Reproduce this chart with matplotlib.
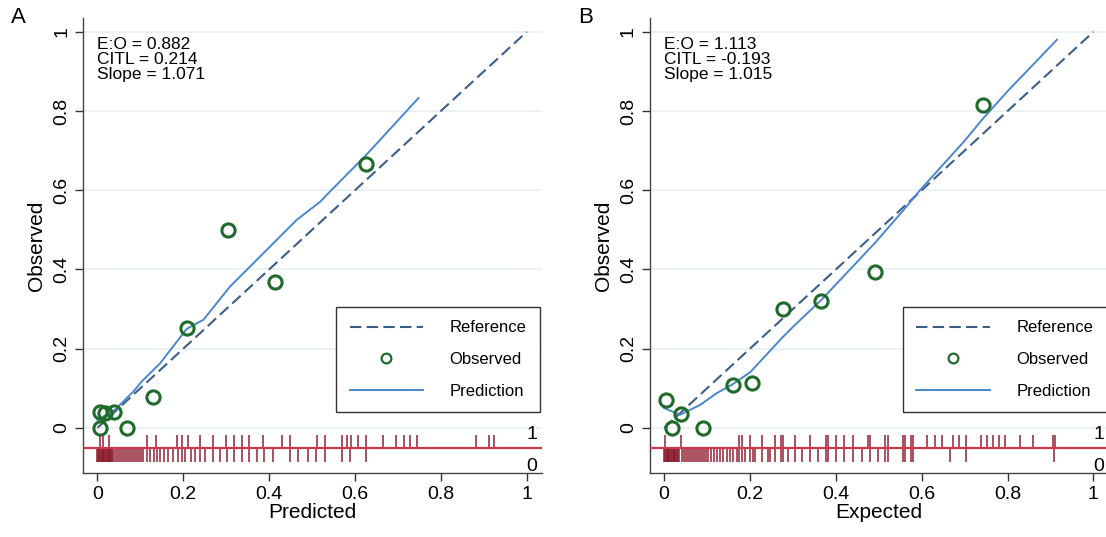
import numpy as np
import matplotlib.pyplot as plt
from matplotlib.lines import Line2D

plt.rcParams['font.family'] = ['Liberation Sans', 'DejaVu Sans']

# ---- panel A data ----
a_obs_x = [0.005, 0.006, 0.018, 0.039, 0.068, 0.129, 0.208, 0.305, 0.414, 0.626]
a_obs_y = [0.0, 0.039, 0.037, 0.040, 0.0, 0.078, 0.252, 0.500, 0.369, 0.666]
a_pred_x = [0.0, 0.006, 0.04, 0.084, 0.103, 0.146, 0.208, 0.247, 0.309, 0.371, 0.464, 0.519, 0.542, 0.626, 0.748]
a_pred_y = [0.02, 0.024, 0.045, 0.092, 0.117, 0.163, 0.250, 0.273, 0.357, 0.424, 0.525, 0.571, 0.597, 0.689, 0.833]
a_rug1 = [0.005, 0.014, 0.026, 0.115, 0.137, 0.186, 0.197, 0.210, 0.238, 0.269,
          0.299, 0.318, 0.336, 0.354, 0.385, 0.429, 0.449, 0.511, 0.530, 0.569,
          0.581, 0.590, 0.608, 0.626, 0.665, 0.696, 0.713, 0.729, 0.745, 0.883,
          0.912, 0.924]
a_rug0 = [0.000, 0.002, 0.004, 0.006, 0.008, 0.010, 0.012, 0.014, 0.016, 0.018,
          0.020, 0.022, 0.024, 0.026, 0.028, 0.030, 0.032, 0.034, 0.036,
          0.041, 0.046, 0.051, 0.055, 0.060, 0.065, 0.069, 0.074, 0.078, 0.083,
          0.088, 0.092, 0.097, 0.102, 0.106, 0.116, 0.123, 0.131, 0.138, 0.146,
          0.154, 0.164, 0.175, 0.187, 0.197, 0.204, 0.218, 0.228, 0.239, 0.251,
          0.269, 0.286, 0.301, 0.317, 0.336, 0.352, 0.371, 0.389, 0.408, 0.449,
          0.468, 0.490, 0.510, 0.530, 0.569, 0.589, 0.626]
a_stats = "E:O = 0.882\nCITL = 0.214\nSlope = 1.071"

# ---- panel B data ----
b_obs_x = [0.005, 0.019, 0.040, 0.090, 0.160, 0.205, 0.277, 0.366, 0.492, 0.742]
b_obs_y = [0.071, 0.0, 0.035, 0.0, 0.109, 0.114, 0.300, 0.321, 0.394, 0.816]
b_pred_x = [0.0, 0.037, 0.084, 0.123, 0.158, 0.20, 0.277, 0.30, 0.366, 0.40, 0.492, 0.56, 0.596, 0.70, 0.742, 0.80, 0.915]
b_pred_y = [0.05, 0.033, 0.058, 0.088, 0.109, 0.14, 0.230, 0.255, 0.323, 0.362, 0.468, 0.553, 0.600, 0.725, 0.780, 0.850, 0.980]
b_rug1 = [0.001, 0.040, 0.175, 0.182, 0.200, 0.229, 0.259, 0.273, 0.278, 0.305,
          0.340, 0.376, 0.382, 0.400, 0.420, 0.441, 0.476, 0.480, 0.515, 0.521,
          0.557, 0.562, 0.574, 0.579, 0.613, 0.632, 0.648, 0.673, 0.686, 0.704,
          0.737, 0.752, 0.766, 0.779, 0.795, 0.830, 0.859, 0.906, 0.911]
b_rug0 = [0.000, 0.002, 0.004, 0.006, 0.008, 0.010, 0.012, 0.014, 0.016, 0.018,
          0.020, 0.022, 0.024, 0.026, 0.028, 0.030, 0.032, 0.034,
          0.041, 0.046, 0.050, 0.055, 0.060, 0.064, 0.069, 0.074, 0.078, 0.083,
          0.088, 0.092, 0.097, 0.103, 0.109, 0.116, 0.123, 0.130, 0.138, 0.146,
          0.154, 0.161, 0.169, 0.175, 0.182, 0.189, 0.200, 0.206, 0.212, 0.229,
          0.241, 0.247, 0.259, 0.273, 0.278, 0.288, 0.305, 0.321, 0.340, 0.359,
          0.376, 0.382, 0.400, 0.420, 0.441, 0.460, 0.480, 0.498, 0.515, 0.521,
          0.557, 0.562, 0.574, 0.579, 0.667, 0.704, 0.909]
b_stats = "E:O = 1.113\nCITL = -0.193\nSlope = 1.015"

ticks = [0, 0.2, 0.4, 0.6, 0.8, 1]
tick_labels = ["0", "0.2", "0.4", "0.6", "0.8", "1"]

green = '#1e6b2c'
ref_col = '#3d5f86'
pred_col = '#4a87cf'
rug_col = '#8a1828'
line_col = '#d0384f'

fig = plt.figure(figsize=(11.06, 5.37), dpi=100)
axA = fig.add_axes([0.0753, 0.1192, 0.4145, 0.8473])
axB = fig.add_axes([0.5877, 0.1192, 0.4145, 0.8473])


def draw(ax, ox, oy, px, py, r1, r0, stats, xlabel, letter):
    ax.set_xlim(-0.033, 1.035)
    ax.set_ylim(-0.114, 1.035)
    for t in ticks:
        ax.axhline(t, color='#e6eff1', lw=1.1, zorder=0)
    ax.plot([0, 1], [0, 1], color=ref_col, lw=1.5, dashes=(5.5, 2.5), zorder=2)
    ax.plot(px, py, color=pred_col, lw=1.4, zorder=3)
    ax.plot(ox, oy, 'o', ms=9.5, mfc='none', mec=green, mew=2.2, zorder=4)
    ax.vlines(r1, -0.018, -0.05, color=rug_col, lw=1.3, alpha=0.8, zorder=2)
    ax.vlines(r0, -0.05, -0.085, color=rug_col, lw=1.3, alpha=0.8, zorder=2)
    ax.axhline(-0.05, color=line_col, lw=1.6, zorder=3)
    ax.text(1.0, -0.018, "1", fontsize=14, ha='left', va='center')
    ax.text(1.0, -0.097, "0", fontsize=14, ha='left', va='center')
    ax.text(0.0, 0.987, stats, fontsize=12.5, va='top', ha='left', linespacing=1.0)

    ax.set_xticks(ticks)
    ax.set_xticklabels(tick_labels, fontsize=14)
    ax.set_yticks(ticks)
    ax.set_yticklabels(tick_labels, fontsize=14, rotation=90, va='center')
    ax.tick_params(direction='out', length=6, width=1, color='#333333')
    ax.set_xlabel(xlabel, fontsize=15, labelpad=0)
    ax.set_ylabel("Observed", fontsize=15, labelpad=5)
    for s in ['top', 'right']:
        ax.spines[s].set_visible(False)
    for s in ['left', 'bottom']:
        ax.spines[s].set_color('#444444')
        ax.spines[s].set_linewidth(1.0)

    handles = [Line2D([], [], color=ref_col, lw=1.5, dashes=(5.5, 2.5)),
               Line2D([], [], ls='none', marker='o', ms=7, mfc='none', mec=green, mew=1.6),
               Line2D([], [], color=pred_col, lw=1.4)]
    leg = ax.legend(handles, ["Reference", "Observed", "Prediction"], loc='lower right',
                    bbox_to_anchor=(0.996, 0.134), fontsize=12, frameon=True,
                    fancybox=False, framealpha=1, edgecolor='#333333',
                    handlelength=4.4, handletextpad=1.6, labelspacing=1.0,
                    borderpad=0.8, borderaxespad=0)
    leg.get_frame().set_linewidth(1.0)
    fig.text(ax.get_position().x0 - 0.065, 0.967, letter, fontsize=16, ha='left', va='center')


draw(axA, a_obs_x, a_obs_y, a_pred_x, a_pred_y, a_rug1, a_rug0, a_stats, "Predicted", "A")
draw(axB, b_obs_x, b_obs_y, b_pred_x, b_pred_y, b_rug1, b_rug0, b_stats, "Expected", "B")

fig.savefig("out.png", dpi=100)
